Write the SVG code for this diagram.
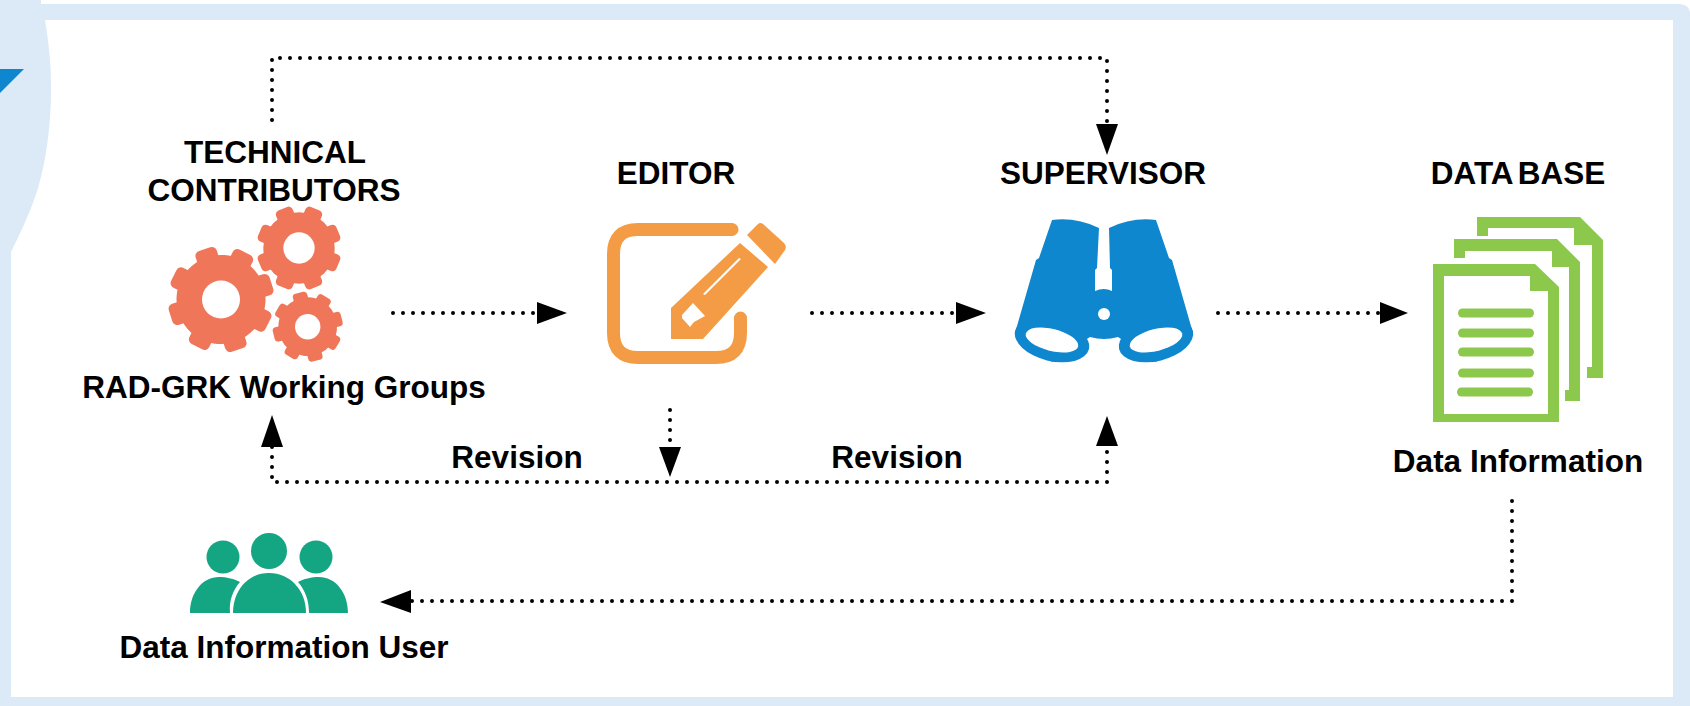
<svg xmlns="http://www.w3.org/2000/svg" width="1690" height="706" viewBox="0 0 1690 706">
<style>
text{font-family:"Liberation Sans",Arial,sans-serif;font-weight:700;font-size:31.500px;fill:#000;text-anchor:middle}
.dot{fill:none;stroke:#000;stroke-width:4;stroke-linecap:round;stroke-dasharray:0 10}
.head{fill:#000}
.gear{fill:#f0765a}
.hole{fill:#fff}
.doc{fill:#8cc84b}
.user{fill:#14a583}
.orange{fill:#f49c45}
.blue{fill:#0f87cf}
</style>
<defs>
<g id="gear-shape" class="gear">
<circle r="0.84"/>
<g id="gear-teeth">
<rect x="-0.21" y="-1" width="0.42" height="0.4" rx="0.1"/>
<rect x="-0.21" y="-1" width="0.42" height="0.4" rx="0.1" transform="rotate(45)"/>
<rect x="-0.21" y="-1" width="0.42" height="0.4" rx="0.1" transform="rotate(90)"/>
<rect x="-0.21" y="-1" width="0.42" height="0.4" rx="0.1" transform="rotate(135)"/>
<rect x="-0.21" y="-1" width="0.42" height="0.4" rx="0.1" transform="rotate(180)"/>
<rect x="-0.21" y="-1" width="0.42" height="0.4" rx="0.1" transform="rotate(225)"/>
<rect x="-0.21" y="-1" width="0.42" height="0.4" rx="0.1" transform="rotate(270)"/>
<rect x="-0.21" y="-1" width="0.42" height="0.4" rx="0.1" transform="rotate(315)"/>
</g>
</g>
</defs>
<rect width="1690" height="706" fill="#dce9f6"/>
<path d="M41,0H1690V14Q1690,4 1678,4H41Z" fill="#fff"/>
<path d="M45,20H1673V697H11V252C22,230 32,208 38,188C45,165 51,130 51,88C51,70 50,50 45,20Z" fill="#fff"/>
<path class="blue" d="M0,69H24L0,93Z"/>
<g id="connectors">
<path class="dot" d="M272,120V58H1107V124"/>
<path class="dot" d="M393,313H537"/>
<path class="dot" d="M812,313H956"/>
<path class="dot" d="M1218,313H1384"/>
<path class="dot" d="M670,410V450"/>
<path class="dot" d="M272,447V482H1107V447"/>
<path class="dot" d="M1512,501V601H411"/>
<path class="head" d="M537,302L567,313L537,324Z"/>
<path class="head" d="M956,302L986,313L956,324Z"/>
<path class="head" d="M1380,302L1408,313L1380,324Z"/>
<path class="head" d="M1096,124H1118L1107,155Z"/>
<path class="head" d="M659,447H681L670,477Z"/>
<path class="head" d="M261,447H283L272,415Z"/>
<path class="head" d="M1096,446H1118L1107,416Z"/>
<path class="head" d="M411,590V613L380,602Z"/>
</g>
<g id="technical-contributors">
<text x="275" y="163">TECHNICAL</text>
<text x="274" y="201">CONTRIBUTORS</text>
</g>
<g id="working-groups">
<text x="284" y="398">RAD-GRK Working Groups</text>
<use href="#gear-shape" transform="translate(221 299.500) rotate(27) scale(53)"/>
<circle class="hole" cx="221" cy="299.500" r="19"/>
<use href="#gear-shape" transform="translate(299 248) rotate(22.500) scale(42.500)"/>
<circle class="hole" cx="299" cy="248" r="15.700"/>
<use href="#gear-shape" transform="translate(307.700 326.700) rotate(31) scale(35)"/>
<circle class="hole" cx="307.700" cy="326.700" r="12.700"/>
</g>
<g id="editor">
<text x="676" y="184">EDITOR</text>
<path d="M732,229.500H638Q613.500,229.500 613.500,254V333Q613.500,357.500 638,357.500H716Q740.500,357.500 740.500,333V318" fill="none" stroke="#f49c45" stroke-width="13" stroke-linecap="round"/>
<path class="orange" d="M747,235L758,224Q760,222 763,224L784,243Q787,246 785,250L775,264Z"/>
<path class="orange" fill-rule="evenodd" d="M740,243L768,267L703,339H671V308ZM739,258L703,294L705,295L741,259ZM682,315L693,303L705,316L694,322L690,327L682,318Z"/>
</g>
<g id="supervisor">
<text x="1103" y="184">SUPERVISOR</text>
<path class="blue" d="M1052,220Q1076,217 1099,228L1097,268L1095,270V291Q1104,287 1112,291V270L1110,268L1109,228Q1132,217 1156,220L1169,258L1172,260L1193,333L1156,362L1118,337Q1104,341 1090,337L1052,362L1015,333L1036,260L1039,258Z"/>
<ellipse class="blue" cx="1052" cy="340" rx="38" ry="21" transform="rotate(14 1052 340)"/>
<ellipse class="blue" cx="1156" cy="340" rx="38" ry="21" transform="rotate(-14 1156 340)"/>
<circle class="hole" cx="1104" cy="314" r="6"/>
<ellipse class="hole" cx="1052" cy="340" rx="27" ry="11" transform="rotate(14 1052 340)"/>
<ellipse class="hole" cx="1156" cy="340" rx="27" ry="11" transform="rotate(-14 1156 340)"/>
</g>
<g id="data-base">
<text x="1518" y="184" word-spacing="-3.500">DATA BASE</text>
<path class="doc" d="M1477,217H1580L1603,240V378H1587V367H1592V245H1574V228H1488V236H1477Z"/>
<path class="doc" d="M1454,239H1557L1580,262V401H1565V390H1569V267H1552V251H1465V258H1454Z"/>
<path class="doc" fill-rule="evenodd" d="M1433,264H1535L1559,287V422H1433ZM1444,276V414H1548V291H1530V276Z"/>
<rect class="doc" x="1458" y="308.500" width="76" height="9" rx="4.500"/>
<rect class="doc" x="1458" y="328.500" width="76" height="9" rx="4.500"/>
<rect class="doc" x="1458" y="347.500" width="76" height="9" rx="4.500"/>
<rect class="doc" x="1458" y="368.500" width="76" height="9" rx="4.500"/>
<rect class="doc" x="1457" y="387.500" width="76" height="9" rx="4.500"/>
<text x="1518" y="472">Data Information</text>
</g>
<g id="revision-labels">
<text x="517" y="468">Revision</text>
<text x="897" y="468">Revision</text>
</g>
<g id="data-user">
<circle class="user" cx="269" cy="551" r="18"/>
<circle class="user" cx="223" cy="557" r="16.500"/>
<circle class="user" cx="316" cy="557" r="16.500"/>
<path class="user" d="M233,613C233,590 248,573 269,573C290,573 306,590 306,613Z"/>
<path class="user" d="M190,613C190,592 203,577 219,577C226,577 235,579 240,582C233,590 229,600 230,613Z"/>
<path class="user" d="M348,613C348,592 335,577 319,577C312,577 303,579 298,582C305,590 309,600 309,613Z"/>
<text x="284" y="658">Data Information User</text>
</g>
</svg>
